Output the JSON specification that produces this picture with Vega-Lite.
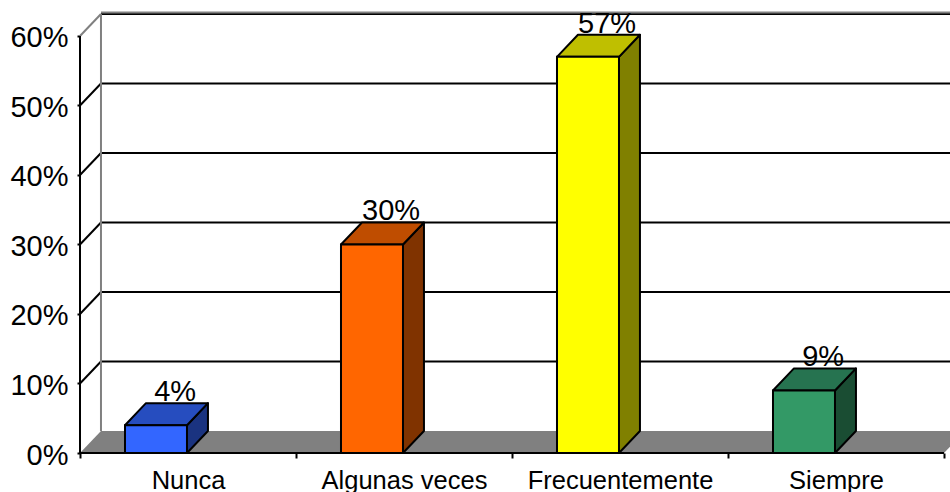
{
  "$schema": "https://vega.github.io/schema/vega-lite/v6.json",
  "width": 870,
  "height": 443,
  "autosize": {"type": "none"},
  "padding": {"left": 80, "top": 10, "right": 0, "bottom": 39},
  "background": "white",
  "view": {"stroke": null},
  "config": {"axis": {"grid": false}},
  "datasets": {
    "respuestas": [
      {"opcion": "Nunca", "porcentaje": 4},
      {"opcion": "Algunas veces", "porcentaje": 30},
      {"opcion": "Frecuentemente", "porcentaje": 57},
      {"opcion": "Siempre", "porcentaje": 9}
    ],
    "niveles": [
      {"nivel": 0}, {"nivel": 10}, {"nivel": 20}, {"nivel": 30},
      {"nivel": 40}, {"nivel": 50}, {"nivel": 60}
    ]
  },
  "resolve": {"scale": {"color": "independent"}},
  "layer": [
    {
      "description": "Suelo gris del grafico en perspectiva",
      "data": {"name": "niveles"},
      "transform": [
        {"filter": "datum.nivel === 0"},
        {"calculate": "[0, 1]", "as": "t"},
        {"flatten": ["t"]},
        {"calculate": "datum.t * 0.0971", "as": "x0"},
        {"calculate": "4 + datum.t * 0.0971", "as": "x1"},
        {"calculate": "datum.t * 3.17", "as": "y0"}
      ],
      "mark": {"type": "area", "orient": "horizontal", "color": "#808080", "clip": true},
      "encoding": {
        "y": {
          "field": "y0", "type": "quantitative", "title": null,
          "scale": {"domain": [0, 63.74], "nice": false, "zero": false},
          "axis": {
            "values": [0, 10, 20, 30, 40, 50, 60],
            "labelExpr": "datum.value + '%'",
            "title": null, "grid": false, "domain": false,
            "tickColor": "black", "tickWidth": 2, "tickSize": 3,
            "labelFont": "Liberation Sans", "labelFontSize": 29,
            "labelColor": "black", "labelPadding": 9, "labelOffset": 2
          }
        },
        "x": {
          "field": "x0", "type": "quantitative", "title": null,
          "scale": {"domain": [0, 4.0278], "nice": false, "zero": false},
          "axis": {
            "values": [0, 0.5, 1, 1.5, 2, 2.5, 3, 3.5, 4],
            "labelExpr": "datum.value % 1 === 0 ? '' : ['Nunca', 'Algunas veces', 'Frecuentemente', 'Siempre'][floor(datum.value)]",
            "title": null, "grid": false, "domain": false,
            "tickColor": "black", "tickWidth": 2, "tickSize": 5,
            "tickOpacity": {"condition": {"test": "datum.value % 1 === 0", "value": 1}, "value": 0},
            "labelFont": "Liberation Sans", "labelFontSize": 25.5,
            "labelColor": "black", "labelPadding": 10, "labelLimit": 400,
            "labelOverlap": false, "labelFlush": false, "labelBound": false
          }
        },
        "x2": {"field": "x1"}
      }
    },
    {
      "description": "Lineas de cuadricula en la pared del fondo",
      "data": {"name": "niveles"},
      "transform": [
        {"filter": "datum.nivel > 0"},
        {"calculate": "datum.nivel + 3.17", "as": "yFondo"},
        {"calculate": "0.0971", "as": "xFondo"},
        {"calculate": "4.0971", "as": "xFin"}
      ],
      "mark": {"type": "rule", "color": "black", "strokeWidth": 2, "clip": true},
      "encoding": {
        "x": {"field": "xFondo", "type": "quantitative", "title": null},
        "x2": {"field": "xFin"},
        "y": {"field": "yFondo", "type": "quantitative", "title": null}
      }
    },
    {
      "description": "Diagonales de la pared lateral",
      "data": {"name": "niveles"},
      "transform": [
        {"filter": "datum.nivel > 0 && datum.nivel < 60"},
        {"calculate": "datum.nivel + 3.17", "as": "yFondo"},
        {"calculate": "0.0971", "as": "xFondo"},
        {"calculate": "0", "as": "xFrente"}
      ],
      "mark": {"type": "rule", "color": "black", "strokeWidth": 2},
      "encoding": {
        "x": {"field": "xFrente", "type": "quantitative", "title": null},
        "x2": {"field": "xFondo"},
        "y": {"field": "nivel", "type": "quantitative", "title": null},
        "y2": {"field": "yFondo"}
      }
    },
    {
      "description": "Borde gris superior de la pared del fondo",
      "data": {"name": "niveles"},
      "transform": [
        {"filter": "datum.nivel === 60"},
        {"calculate": "datum.nivel + 3.17", "as": "yFondo"},
        {"calculate": "0.0971", "as": "xFondo"},
        {"calculate": "4.0971", "as": "xFin"}
      ],
      "mark": {"type": "rule", "color": "#808080", "strokeWidth": 2, "yOffset": -1.5, "clip": true},
      "encoding": {
        "x": {"field": "xFondo", "type": "quantitative", "title": null},
        "x2": {"field": "xFin"},
        "y": {"field": "yFondo", "type": "quantitative", "title": null}
      }
    },
    {
      "description": "Arista gris vertical de la pared",
      "data": {"name": "niveles"},
      "transform": [
        {"filter": "datum.nivel === 60"},
        {"calculate": "datum.nivel + 3.17", "as": "yFondo"},
        {"calculate": "0.0971", "as": "xFondo"},
        {"calculate": "3.17", "as": "yPiso"}
      ],
      "mark": {"type": "rule", "color": "#808080", "strokeWidth": 2},
      "encoding": {
        "x": {"field": "xFondo", "type": "quantitative", "title": null},
        "y": {"field": "yPiso", "type": "quantitative", "title": null},
        "y2": {"field": "yFondo"}
      }
    },
    {
      "description": "Diagonal gris superior de la pared lateral",
      "data": {"name": "niveles"},
      "transform": [
        {"filter": "datum.nivel === 60"},
        {"calculate": "datum.nivel + 3.17", "as": "yFondo"},
        {"calculate": "0.0971", "as": "xFondo"},
        {"calculate": "0", "as": "xFrente"}
      ],
      "mark": {"type": "rule", "color": "#808080", "strokeWidth": 2},
      "encoding": {
        "x": {"field": "xFrente", "type": "quantitative", "title": null},
        "x2": {"field": "xFondo"},
        "y": {"field": "nivel", "type": "quantitative", "title": null},
        "y2": {"field": "yFondo"}
      }
    },
    {
      "description": "Cara lateral de cada barra",
      "data": {"name": "respuestas"},
      "transform": [
        {"window": [{"op": "row_number", "as": "orden"}]},
        {"calculate": "datum.orden - 1 + 0.2083 + 0.287", "as": "derecha"},
        {"calculate": "[0, 1]", "as": "t"},
        {"flatten": ["t"]},
        {"calculate": "datum.derecha + datum.t * 0.0971", "as": "xCara"},
        {"calculate": "datum.t * 3.17", "as": "yBase"},
        {"calculate": "datum.porcentaje + datum.t * 3.17", "as": "yTope"}
      ],
      "mark": {"type": "area", "stroke": "black", "strokeWidth": 2, "strokeJoin": "round"},
      "encoding": {
        "x": {"field": "xCara", "type": "quantitative", "title": null},
        "y": {"field": "yTope", "type": "quantitative", "title": null},
        "y2": {"field": "yBase"},
        "color": {
          "field": "opcion", "type": "nominal", "legend": null,
          "scale": {
            "domain": ["Nunca", "Algunas veces", "Frecuentemente", "Siempre"],
            "range": ["#1A3380", "#803300", "#808000", "#1A4D33"]
          }
        }
      }
    },
    {
      "description": "Cara superior de cada barra",
      "data": {"name": "respuestas"},
      "transform": [
        {"window": [{"op": "row_number", "as": "orden"}]},
        {"calculate": "datum.orden - 1 + 0.2083", "as": "izquierda"},
        {"calculate": "[0, 1]", "as": "t"},
        {"flatten": ["t"]},
        {"calculate": "datum.izquierda + datum.t * 0.0971", "as": "xIzq"},
        {"calculate": "datum.izquierda + 0.287 + datum.t * 0.0971", "as": "xDer"},
        {"calculate": "datum.porcentaje + datum.t * 3.17", "as": "yTope"}
      ],
      "mark": {"type": "area", "orient": "horizontal", "stroke": "black", "strokeWidth": 2, "strokeJoin": "round"},
      "encoding": {
        "y": {"field": "yTope", "type": "quantitative", "title": null},
        "x": {"field": "xIzq", "type": "quantitative", "title": null},
        "x2": {"field": "xDer"},
        "color": {
          "field": "opcion", "type": "nominal", "legend": null,
          "scale": {
            "domain": ["Nunca", "Algunas veces", "Frecuentemente", "Siempre"],
            "range": ["#264DBF", "#BF4D00", "#BFBF00", "#267350"]
          }
        }
      }
    },
    {
      "description": "Cara frontal de cada barra",
      "data": {"name": "respuestas"},
      "transform": [
        {"window": [{"op": "row_number", "as": "orden"}]},
        {"calculate": "datum.orden - 1 + 0.2083", "as": "izquierda"},
        {"calculate": "datum.izquierda + 0.287", "as": "derecha"}
      ],
      "mark": {"type": "bar", "stroke": "black", "strokeWidth": 2},
      "encoding": {
        "x": {"field": "izquierda", "type": "quantitative", "title": null},
        "x2": {"field": "derecha"},
        "y": {"field": "porcentaje", "type": "quantitative", "title": null},
        "y2": {"datum": 0},
        "color": {
          "field": "opcion", "type": "nominal", "legend": null,
          "scale": {
            "domain": ["Nunca", "Algunas veces", "Frecuentemente", "Siempre"],
            "range": ["#3366FF", "#FF6600", "#FFFF00", "#339966"]
          }
        }
      }
    },
    {
      "description": "Eje vertical frontal",
      "data": {"name": "niveles"},
      "transform": [
        {"joinaggregate": [{"op": "max", "field": "nivel", "as": "maximo"}]},
        {"filter": "datum.nivel === 0"},
        {"calculate": "0", "as": "xFrente"}
      ],
      "mark": {"type": "rule", "color": "black", "strokeWidth": 2},
      "encoding": {
        "x": {"field": "xFrente", "type": "quantitative", "title": null},
        "y": {"field": "nivel", "type": "quantitative", "title": null},
        "y2": {"field": "maximo"}
      }
    },
    {
      "description": "Eje horizontal frontal",
      "data": {"name": "niveles"},
      "transform": [
        {"filter": "datum.nivel === 0"},
        {"calculate": "0", "as": "xIni"},
        {"calculate": "4", "as": "xFin"}
      ],
      "mark": {"type": "rule", "color": "black", "strokeWidth": 2},
      "encoding": {
        "x": {"field": "xIni", "type": "quantitative", "title": null},
        "x2": {"field": "xFin"},
        "y": {"field": "nivel", "type": "quantitative", "title": null}
      }
    },
    {
      "description": "Etiquetas de porcentaje sobre cada barra",
      "data": {"name": "respuestas"},
      "transform": [
        {"window": [{"op": "row_number", "as": "orden"}]},
        {"calculate": "datum.orden - 1 + 0.2083 + 0.232", "as": "xTexto"},
        {"calculate": "datum.porcentaje + 3.17", "as": "yTexto"},
        {"calculate": "datum.porcentaje + '%'", "as": "etiqueta"}
      ],
      "mark": {"type": "text", "font": "Liberation Sans", "fontSize": 29, "color": "black", "baseline": "alphabetic", "align": "center", "dy": -2},
      "encoding": {
        "x": {"field": "xTexto", "type": "quantitative", "title": null},
        "y": {"field": "yTexto", "type": "quantitative", "title": null},
        "text": {"field": "etiqueta"}
      }
    }
  ]
}
